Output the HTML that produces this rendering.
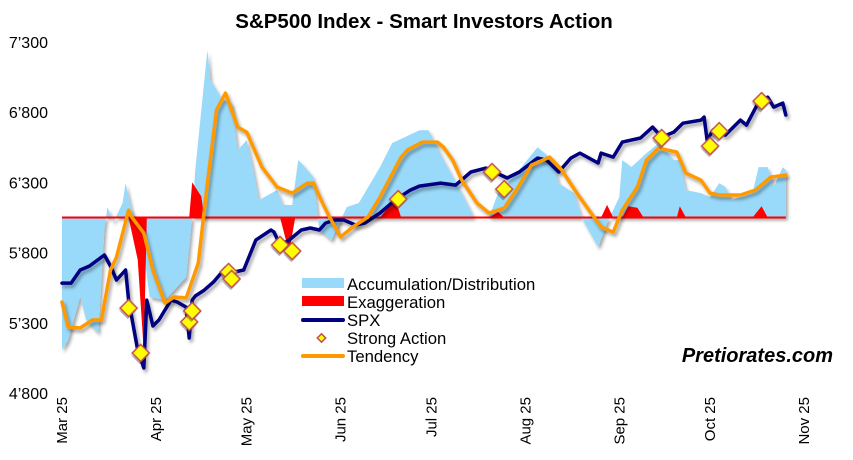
<!DOCTYPE html>
<html><head><meta charset="utf-8">
<style>
body{margin:0;background:#fff;}
svg{display:block;font-family:"Liberation Sans",Arial,sans-serif;}
</style></head>
<body>
<svg id="chart" width="853" height="460" viewBox="0 0 853 460">
<defs>
<filter id="sh" x="-10%" y="-10%" width="120%" height="130%">
<feDropShadow dx="2" dy="3" stdDeviation="1.5" flood-color="#000" flood-opacity="0.35"/>
</filter>
</defs>
<text x="424" y="28" text-anchor="middle" font-size="20.5" font-weight="bold">S&amp;P500 Index - Smart Investors Action</text>
<g id="yaxis"></g>
<g id="xaxis"></g>
<g id="plot"></g>
<g font-size="16.7">
<rect x="302" y="278" width="42" height="10" fill="#99d9f9"/>
<text x="347" y="290">Accumulation/Distribution</text>
<rect x="302" y="296" width="42" height="10" fill="#ff0000"/>
<text x="347" y="308">Exaggeration</text>
<line x1="303" y1="320" x2="343" y2="320" stroke="#000080" stroke-width="4" stroke-linecap="round"/>
<text x="347" y="326">SPX</text>
<rect x="318.5" y="335" width="6" height="6" transform="rotate(45 321.5 338)" fill="#ffff00" stroke="#c0504d" stroke-width="1.5"/>
<text x="347" y="344">Strong Action</text>
<line x1="303" y1="356" x2="343" y2="356" stroke="#ff9900" stroke-width="4" stroke-linecap="round"/>
<text x="347" y="362">Tendency</text>
</g>
<text x="833" y="362" text-anchor="end" font-size="20" font-weight="bold" font-style="italic">Pretiorates.com</text>
</svg>
<script>
const yTicks=[4800,5300,5800,6300,6800,7300];
const yTickLabels=["4’800","5’300","5’800","6’300","6’800","7’300"];
const monthLabels=["Mar 25","Apr 25","May 25","Jun 25","Jul 25","Aug 25","Sep 25","Oct 25","Nov 25"];
const monthDays=[0,31,61,92,122,153,184,214,245];
const baselineValue=6050;
const spxDays=[0,3,6,9,14,16,18,21,22,25,27,28,30,32,36,38,41,42,43,44,47,50,54,57,60,64,69,70,72,75,79,82,85,87,90,93,97,100,105,110,115,118,125,130,135,140,147,151,157,160,164,168,171,177,178,182,185,191,195,198,202,205,211,212,213,215,219,224,226,230,233,235,238,239];
const spxValues=[5583,5583,5676,5704,5783,5704,5605,5676,5462,5106,4978,5462,5277,5320,5462,5448,5412,5192,5462,5491,5533,5590,5690,5662,5676,5889,5961,5946,5854,5889,5961,5975,5961,6010,6032,6032,5996,6010,6082,6174,6245,6274,6295,6281,6374,6402,6331,6374,6473,6459,6374,6473,6509,6438,6509,6480,6587,6616,6694,6623,6658,6722,6744,6765,6601,6673,6637,6744,6708,6872,6907,6836,6865,6779];
const tendDays=[0,2,6,10,13,16,18,22,23,27,30,34,37,41,45,48,51,54,58,61,66,71,76,81,83,86,88,92,96,101,105,112,114,119,124,126,129,132,137,141,146,150,155,161,165,170,174,178,182,185,190,193,197,203,206,211,214,217,224,229,234,239];
const tendValues=[5448,5270,5263,5320,5320,5676,5768,6103,6053,5939,5676,5441,5484,5477,5726,6295,6815,6936,6694,6658,6409,6267,6224,6295,6295,6153,6067,5911,5982,6053,6195,6480,6530,6587,6587,6551,6459,6316,6153,6082,6117,6245,6423,6480,6388,6224,6103,5982,5946,6103,6267,6459,6544,6516,6366,6316,6224,6210,6210,6245,6338,6352];
const accDays=[0,2,6,8,12,14,15,17,20,21,23,26,29,34,41,43,44,48,49,53,56,58,61,63,65,71,73,76,78,79,83,85,89,94,98,105,109,118,121,126,132,136,141,144,149,157,162,164,169,172,177,180,184,185,188,193,197,202,204,206,211,214,217,219,221,228,230,233,235,238,239];
const accValues=[5106,5177,5484,5320,5227,5961,6124,6018,6153,6295,6103,5961,5484,5462,5626,6053,6388,7242,7029,6886,6865,6530,6601,6409,6174,6245,6139,6139,6459,6438,6338,5961,5889,6124,6153,6409,6580,6672,6672,6459,6224,6053,6053,6224,6338,6551,6459,6295,6224,6032,5839,6010,6195,6459,6409,6509,6580,6459,6459,6245,6224,6195,6295,6267,6174,6224,6409,6409,6267,6409,6388];
const exagDays=[0,22,25,27,28,42,43,46,47,72,75,77,105,110,112,141,144,146,178,180,182,185,187,190,192,203,204,206,228,231,233,239];
const exagValues=[6050,6050,5750,5100,6050,6050,6300,6200,6050,6050,5800,6050,6050,6180,6050,6050,6090,6050,6050,6140,6050,6050,6130,6120,6050,6050,6130,6050,6050,6130,6050,6050];
const actionDays=[22,26,42,43,55,56,72,76,111,142,146,198,214,217,231];
const actionValues=[5405,5085,5306,5384,5662,5612,5854,5811,6181,6374,6252,6616,6559,6665,6879];

const NS="http://www.w3.org/2000/svg";
const X0=62,PXD=742/245,Y0=393,PXV=70.2/500;
const xs=d=>X0+d*PXD;
const ys=v=>Y0-(v-4800)*PXV;
function mk(tag,attrs,parent){const e=document.createElementNS(NS,tag);for(const k in attrs)e.setAttribute(k,attrs[k]);parent.appendChild(e);return e;}
const yax=document.getElementById('yaxis'),xax=document.getElementById('xaxis'),plot=document.getElementById('plot');
yTicks.forEach((t,i)=>{
  const e=mk('text',{x:48,y:ys(t)+6,'text-anchor':'end','font-size':16},yax);
  
  
  e.textContent=yTickLabels[i];
});
monthLabels.forEach((m,i)=>{
  const x=xs(monthDays[i])+5, y=397;
  const e=mk('text',{x:x,y:y,'text-anchor':'end','font-size':15},xax);
  e.setAttribute('transform',`rotate(-90 ${x} ${y})`);
  
  
  e.textContent=m;
});
const base=ys(baselineValue);
let p=`M${xs(accDays[0])},${base}`;
accDays.forEach((d,i)=>{p+=` L${xs(d).toFixed(1)},${ys(accValues[i]).toFixed(1)}`;});
p+=` L${xs(accDays[accDays.length-1])},${base} Z`;
const acc=mk('path',{d:p,fill:'#99d9f9',filter:'url(#sh)'},plot);


let q='';
exagDays.forEach((d,i)=>{q+=(i?' L':'M')+xs(d).toFixed(1)+','+ys(exagValues[i]).toFixed(1);});
q+=' Z';
const ex=mk('path',{d:q,fill:'#ff0000'},plot);


const bl=mk('line',{x1:xs(0),x2:xs(239),y1:base,y2:base,stroke:'#ff0000','stroke-width':2},plot);


function line(days,vals,color,name){
  let s='';days.forEach((d,i)=>{s+=(i?' L':'M')+xs(d).toFixed(1)+','+ys(vals[i]).toFixed(1);});
  const e=mk('path',{d:s,fill:'none',stroke:color,'stroke-width':3.5,'stroke-linejoin':'round','stroke-linecap':'round',filter:'url(#sh)'},plot);
  
  
}
line(spxDays,spxValues,'#000080','spx-line');
line(tendDays,tendValues,'#ff9900','tendency-line');
actionDays.forEach((d,i)=>{
  const cx=xs(d),cy=ys(actionValues[i]);
  const e=mk('rect',{x:cx-6,y:cy-6,width:12,height:12,fill:'#ffff00',stroke:'#c0504d','stroke-width':1.5,filter:'url(#sh)'},plot);
  e.setAttribute('transform',`rotate(45 ${cx} ${cy})`);
  
  
});
</script>
</body></html>
